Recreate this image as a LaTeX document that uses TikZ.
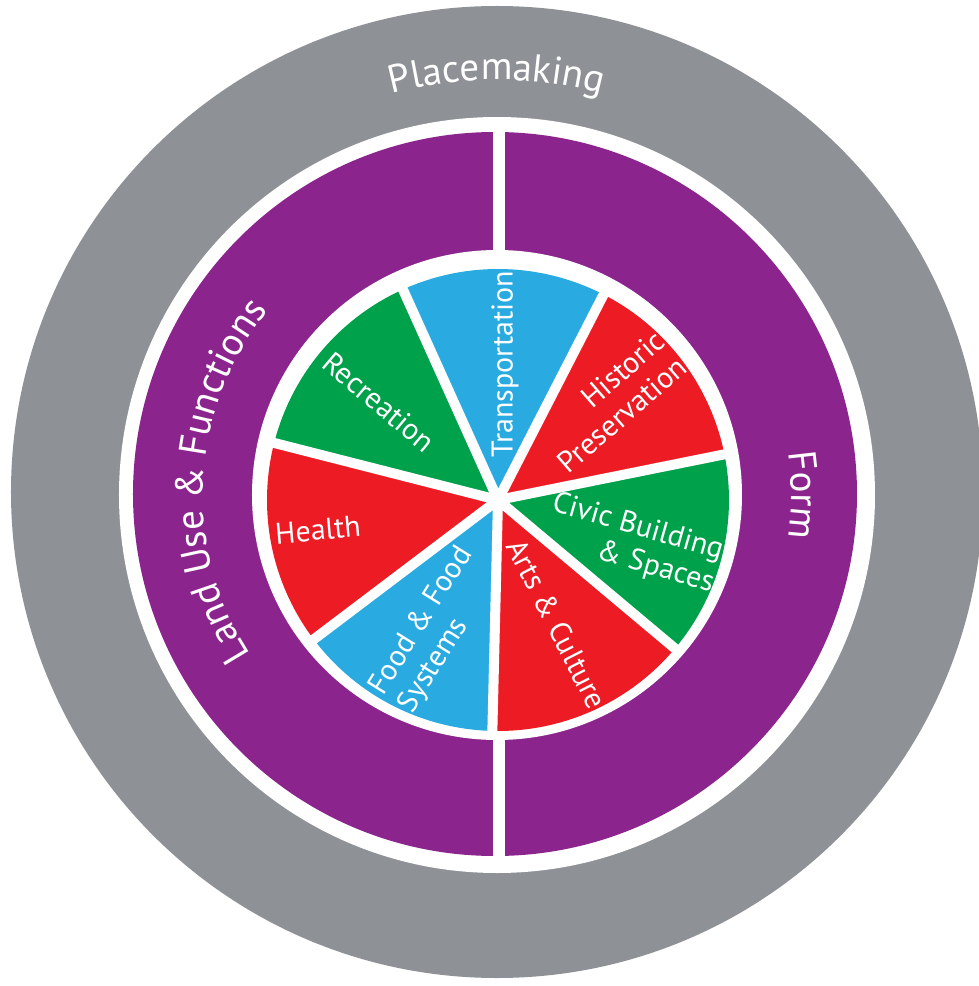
\documentclass[tikz,border=0pt]{standalone}
\usepackage{fontspec}
\setmainfont{PT Sans}
\usetikzlibrary{decorations.text}
\definecolor{ringgray}{HTML}{8E9195}
\definecolor{formpurple}{HTML}{8C248E}
\definecolor{slicered}{HTML}{ED1C24}
\definecolor{slicegreen}{HTML}{00A14B}
\definecolor{sliceblue}{HTML}{29ABE2}
\newcommand{\ringfont}{\fontsize{39}{39}\selectfont}
\begin{document}
\begin{tikzpicture}[x=1pt, y=1pt,
    slicelabel/.style={text=white, font=\fontsize{30}{34}\selectfont, inner sep=0pt},
    sepline/.style={white, line width=10pt},
    ringtext/.style={decorate, decoration={text along path, text align=center, text color=white}}]
  \useasboundingbox (-497,-491) rectangle (482,495);
  \clip (-497,-491) rectangle (482,495);
  \fill[white] (-497,-491) rectangle (482,495);
  \fill[ringgray] (0,3) circle[radius=486];
  \fill[white] (0,0) circle[radius=378];
  \fill[formpurple] (-2,1) circle[radius=362];
  \fill[white] (-4,-370) rectangle (8,370);
  \fill[white] (0,0) circle[radius=245];
  \path[ringtext, decoration={text={|\ringfont|Placemaking}}]
      (160:415) arc[start angle=160, end angle=20, radius=415];
  \path[ringtext, decoration={text={|\ringfont|Land Use {\&} Functions}}]
      (227:294) arc[start angle=227, end angle=127, radius=294];
  \path[ringtext, decoration={text={|\ringfont|Form}}]
      (50:294) arc[start angle=50, end angle=-50, radius=294];
  \begin{scope}[shift={(1,-5)}]
    \fill[slicered]   (0,0) -- (11.4:231)  arc[start angle=11.4,  end angle=62.8,  radius=231] -- cycle;
    \fill[sliceblue]  (0,0) -- (62.8:231)  arc[start angle=62.8,  end angle=114.3, radius=231] -- cycle;
    \fill[slicegreen] (0,0) -- (114.3:231) arc[start angle=114.3, end angle=165.7, radius=231] -- cycle;
    \fill[slicered]   (0,0) -- (165.7:231) arc[start angle=165.7, end angle=217.1, radius=231] -- cycle;
    \fill[sliceblue]  (0,0) -- (217.1:231) arc[start angle=217.1, end angle=268.6, radius=231] -- cycle;
    \fill[slicered]   (0,0) -- (268.6:231) arc[start angle=268.6, end angle=320,   radius=231] -- cycle;
    \fill[slicegreen] (0,0) -- (320:231)   arc[start angle=320,   end angle=371.4, radius=231] -- cycle;
    \coordinate (hub) at (0,0);
    \draw[sepline] (hub) -- (11.4:236);
    \draw[sepline] (hub) -- (62.8:236);
    \draw[sepline] (hub) -- (114.3:236);
    \draw[sepline] (hub) -- (165.7:236);
    \draw[sepline] (hub) -- (217.1:236);
    \draw[sepline] (hub) -- (268.6:236);
    \draw[sepline] (hub) -- (320:236);
    \node[slicelabel, rotate=90] (transp) at (7,136) {Transportation};
    \node[slicelabel, rotate=41, align=right] (histpres) at (113,98) {Historic\\Preservation};
    \node[slicelabel, rotate=-16, align=right] (civic) at (135,-44) {Civic Building\\\& Spaces};
    \node[slicelabel, rotate=-63] (arts) at (59,-124) {Arts \& Culture};
    \node[slicelabel, rotate=58, align=left] (food) at (-62,-130) {Food \& Food\\Systems};
    \node[slicelabel, rotate=5] (health) at (-180,-30) {Health};
    \node[slicelabel, rotate=-40] (recre) at (-119,98) {Recreation};
  \end{scope}
\end{tikzpicture}
\end{document}
